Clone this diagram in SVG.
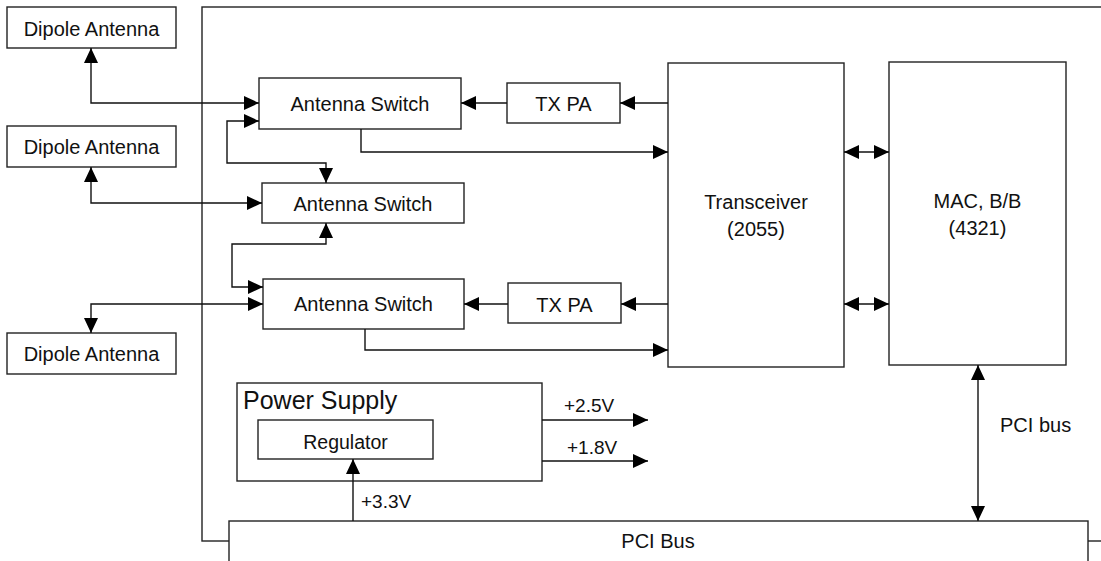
<svg xmlns="http://www.w3.org/2000/svg" width="1101" height="561" viewBox="0 0 1101 561">
<defs>
<marker id="ah" markerUnits="userSpaceOnUse" markerWidth="15" markerHeight="14" refX="15" refY="7" orient="auto-start-reverse" viewBox="0 0 15 14">
<path d="M0,0 L15,7 L0,14 z" fill="#000"/>
</marker>
<style>
.box{fill:#fff;stroke:#222;stroke-width:1.4}
.ln{fill:none;stroke:#111;stroke-width:1.4}
.a{marker-end:url(#ah)}
.b{marker-start:url(#ah);marker-end:url(#ah)}
text{font-family:"Liberation Sans",Arial,sans-serif;font-size:20px;fill:#111}
.c{text-anchor:middle}
</style>
</defs>
<g id="board"><rect class="box" x="202" y="7" width="930" height="534"/></g>
<g id="pci-bus"><rect class="box" x="229" y="521" width="859" height="60"/><text class="c" x="658" y="548">PCI Bus</text></g>
<g id="dipole1"><rect class="box" x="7" y="7" width="169" height="41"/><text class="c" x="91.5" y="36">Dipole Antenna</text></g>
<g id="dipole2"><rect class="box" x="7" y="126" width="169" height="41"/><text class="c" x="91.5" y="154">Dipole Antenna</text></g>
<g id="dipole3"><rect class="box" x="7" y="333" width="169" height="41"/><text class="c" x="91.5" y="361">Dipole Antenna</text></g>
<g id="switch1"><rect class="box" x="259" y="78" width="202" height="51"/><text class="c" x="360" y="111">Antenna Switch</text></g>
<g id="switch2"><rect class="box" x="262" y="183" width="202" height="40"/><text class="c" x="363" y="211">Antenna Switch</text></g>
<g id="switch3"><rect class="box" x="263" y="279" width="201" height="50"/><text class="c" x="363.5" y="311">Antenna Switch</text></g>
<g id="txpa1"><rect class="box" x="507" y="83" width="113" height="40"/><text class="c" x="563.5" y="111">TX PA</text></g>
<g id="txpa2"><rect class="box" x="508" y="283" width="113" height="40"/><text class="c" x="564.5" y="312">TX PA</text></g>
<g id="transceiver"><rect class="box" x="668" y="63" width="176" height="304"/><text class="c" x="756" y="209">Transceiver</text><text class="c" x="756" y="236">(2055)</text></g>
<g id="mac"><rect class="box" x="889" y="62" width="177" height="303"/><text class="c" x="977.5" y="208">MAC, B/B</text><text class="c" x="977.5" y="235">(4321)</text></g>
<g id="power-supply"><rect class="box" x="237" y="383" width="305" height="98"/><text x="243" y="409" style="font-size:25px">Power Supply</text></g>
<g id="regulator"><rect class="box" x="258" y="420" width="175" height="39"/><text class="c" x="345.5" y="449" style="font-size:19.5px">Regulator</text></g>
<g id="connectors">
<path class="ln b" d="M91,48 V103 H259"/>
<path class="ln b" d="M259,121 H227 V163 H326 V183"/>
<path class="ln b" d="M91,167 V203 H262"/>
<path class="ln b" d="M326,223 V244 H232 V287 H263"/>
<path class="ln b" d="M263,304 H91 V333"/>
<path class="ln a" d="M507,103 H461"/>
<path class="ln a" d="M668,103 H620"/>
<path class="ln a" d="M508,304 H464"/>
<path class="ln a" d="M668,304 H621"/>
<path class="ln a" d="M361,129 V152 H668"/>
<path class="ln a" d="M365,329 V350 H668"/>
<path class="ln b" d="M844,152 H889"/>
<path class="ln b" d="M844,304 H889"/>
<path class="ln b" d="M978,365 V521"/>
<path class="ln a" d="M542,420 H648"/>
<path class="ln a" d="M542,461 H648"/>
<path class="ln a" d="M353,521 V459"/>
<text x="1000" y="432">PCI bus</text>
<text x="564" y="412" style="font-size:19px">+2.5V</text>
<text x="567" y="454" style="font-size:19px">+1.8V</text>
<text x="361" y="508" style="font-size:19px">+3.3V</text>
</g>
</svg>
